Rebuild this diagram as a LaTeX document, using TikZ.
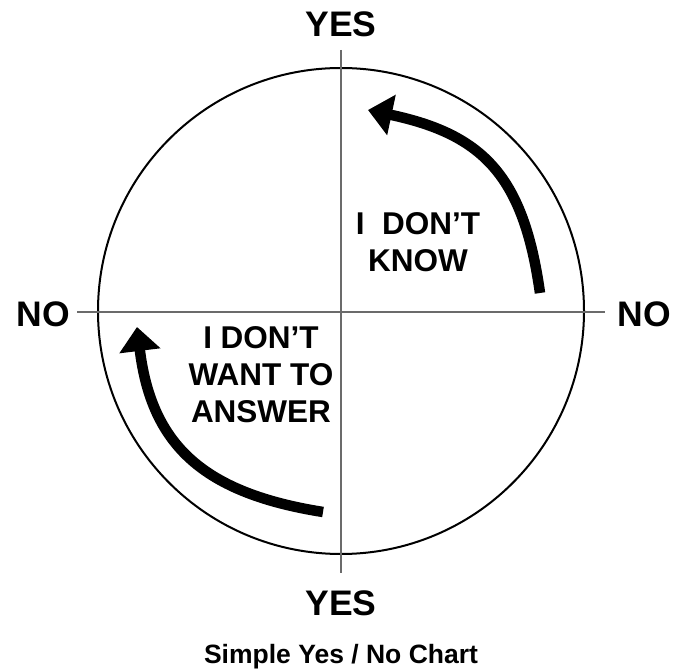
\documentclass[tikz,border=0pt]{standalone}
\usepackage{fontspec}
\setmainfont{Liberation Sans}
\usetikzlibrary{arrows.meta}
\definecolor{axisgray}{rgb}{0.42,0.42,0.42}
\tikzset{
  big/.style={font=\bfseries\fontsize{35.5}{40}\selectfont, inner sep=0pt, anchor=base},
  label/.style={font=\bfseries\fontsize{31.5}{37}\selectfont, inner sep=0pt, align=center},
  caption/.style={font=\bfseries\fontsize{26.5}{30}\selectfont, inner sep=0pt, anchor=base},
  axis/.style={draw=axisgray, line width=1.6pt},
  bigarrow/.style={line width=10.5pt, line cap=butt, -{Triangle[width=40pt,length=24pt]}}
}
\begin{document}
\begin{tikzpicture}[x=1pt,y=1pt]
\useasboundingbox (0,0) rectangle (686,670);
% circle
\node[circle, draw=black, line width=2pt, minimum size=486pt, inner sep=0pt] (c) at (341,359) {};
% axes
\coordinate (vt) at (341,620);
\coordinate (vb) at (341,97);
\coordinate (hl) at (77,358);
\coordinate (hr) at (605,358);
\draw[axis] (vt) -- (vb);
\draw[axis] (hl) -- (hr);
% labels
\node[big] (yestop) at (341,633) {YES};
\node[big] (yesbot) at (341,55) {YES};
\node[big] (noleft) at (43,343) {NO};
\node[big] (noright) at (644,343) {NO};
\node[caption] (cap) at (341,7) {Simple Yes / No Chart};
\node[label] (know) at (418,427.5) {I\ \ DON’T\\KNOW};
\node[label] (want) at (261,295.5) {I DON’T\\WANT TO\\ANSWER};
% arrows
\coordinate (a1s) at (540,377);
\coordinate (a1e) at (368,560);
\draw[bigarrow] (a1s) .. controls (523.6,493.9) and (483.4,535.5) .. (a1e);
\coordinate (a2s) at (323,158);
\coordinate (a2e) at (137,343);
\draw[bigarrow] (a2s) .. controls (204.5,176.8) and (151.6,223.9) .. (a2e);
\end{tikzpicture}
\end{document}
